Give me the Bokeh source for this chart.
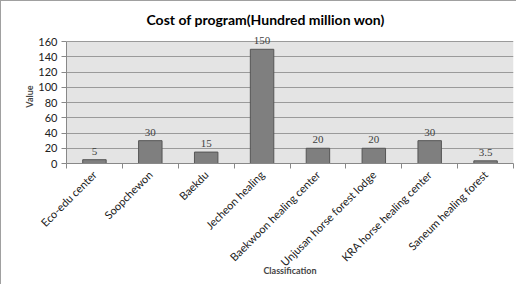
import math
from bokeh.plotting import figure
from bokeh.models import Range1d, FixedTicker, ColumnDataSource, LabelSet
from bokeh.embed import file_html
from bokeh.resources import INLINE

categories = ["Eco-edu center", "Soopchewon", "Baekdu", "Jecheon healing",
              "Baekwoon healing center", "Unjusan horse forest lodge",
              "KRA horse healing center", "Saneum healing forest"]
costs = [5, 30, 15, 150, 20, 20, 30, 3.5]
cost_labels = ["5", "30", "15", "150", "20", "20", "30", "3.5"]
y_ticks = [0, 20, 40, 60, 80, 100, 120, 140, 160]
title_text = "Cost of program(Hundred million won)"

FONT = "Lato"
n = len(categories)
centers = [i + 0.5 for i in range(n)]
bounds = [float(i) for i in range(n + 1)]
y_top = y_ticks[-1] * 1.1   # headroom so the top value label is not clipped

src = ColumnDataSource(dict(x=centers, top=costs, lab=cost_labels))

p = figure(width=516, height=284, output_backend="svg", toolbar_location=None,
           x_range=Range1d(0, n), y_range=Range1d(y_ticks[0], y_top),
           min_border_left=65, min_border_right=4, min_border_top=28,
           min_border_bottom=122)

p.title.text = title_text
p.title.text_font = FONT
p.title.text_font_size = "14px"
p.title.text_font_style = "bold"
p.title.text_color = "#000000"
p.title.align = "left"
p.title.offset = 80
p.title.standoff = 4

p.background_fill_color = "white"
p.border_fill_color = "white"
p.outline_line_color = None
p.styles = {"border-left": "1px solid #a0a0a0", "border-top": "1px solid #a0a0a0"}

# plot-area background limited to the value axis span
p.quad(left=0, right=n, bottom=y_ticks[0], top=y_ticks[-1],
       fill_color="#e4e4e4", line_color=None, level="image")

p.vbar(x="x", top="top", bottom=0, width=0.42, source=src,
       fill_color="#7f7f7f", line_color="#555555", line_width=1)
p.add_layout(LabelSet(x="x", y="top", text="lab", source=src, text_align="center",
                      text_baseline="bottom", y_offset=5, text_font_size="11px",
                      text_color="#404040", text_font=FONT))

p.xgrid.visible = False
p.ygrid.grid_line_color = "#9a9a9a"
p.ygrid.grid_line_width = 1
p.ygrid.ticker = FixedTicker(ticks=y_ticks)

# y axis
ya = p.yaxis[0]
ya.ticker = FixedTicker(ticks=y_ticks, minor_ticks=[])
ya.bounds = (y_ticks[0], y_ticks[-1])
ya.axis_label = "Value"
ya.axis_label_text_font = FONT
ya.axis_label_text_font_size = "9px"
ya.axis_label_text_font_style = "bold"
ya.axis_label_standoff = 0
ya.major_label_text_font = FONT
ya.major_label_text_font_size = "11px"
ya.major_label_text_color = "#202020"
ya.major_label_standoff = 4
ya.axis_line_color = "#888888"
ya.major_tick_line_color = "#888888"
ya.major_tick_out = 5
ya.major_tick_in = 0
ya.minor_tick_line_color = None

# x axis
xa = p.xaxis[0]
xa.ticker = FixedTicker(ticks=centers, minor_ticks=bounds)
xa.major_label_overrides = {c: name for c, name in zip(centers, categories)}
xa.major_label_orientation = math.pi / 4
xa.major_label_text_font = FONT
xa.major_label_text_font_size = "11px"
xa.major_label_text_color = "#202020"
xa.major_label_standoff = 4
xa.major_tick_out = 0
xa.major_tick_in = 0
xa.minor_tick_out = 5
xa.minor_tick_in = 0
xa.minor_tick_line_color = "#888888"
xa.axis_line_color = "#888888"
xa.axis_label = "Classification"
xa.axis_label_text_font = FONT
xa.axis_label_text_font_size = "9px"
xa.axis_label_text_font_style = "bold"
xa.axis_label_standoff = -11

open("out.html", "w").write(file_html(p, INLINE))
